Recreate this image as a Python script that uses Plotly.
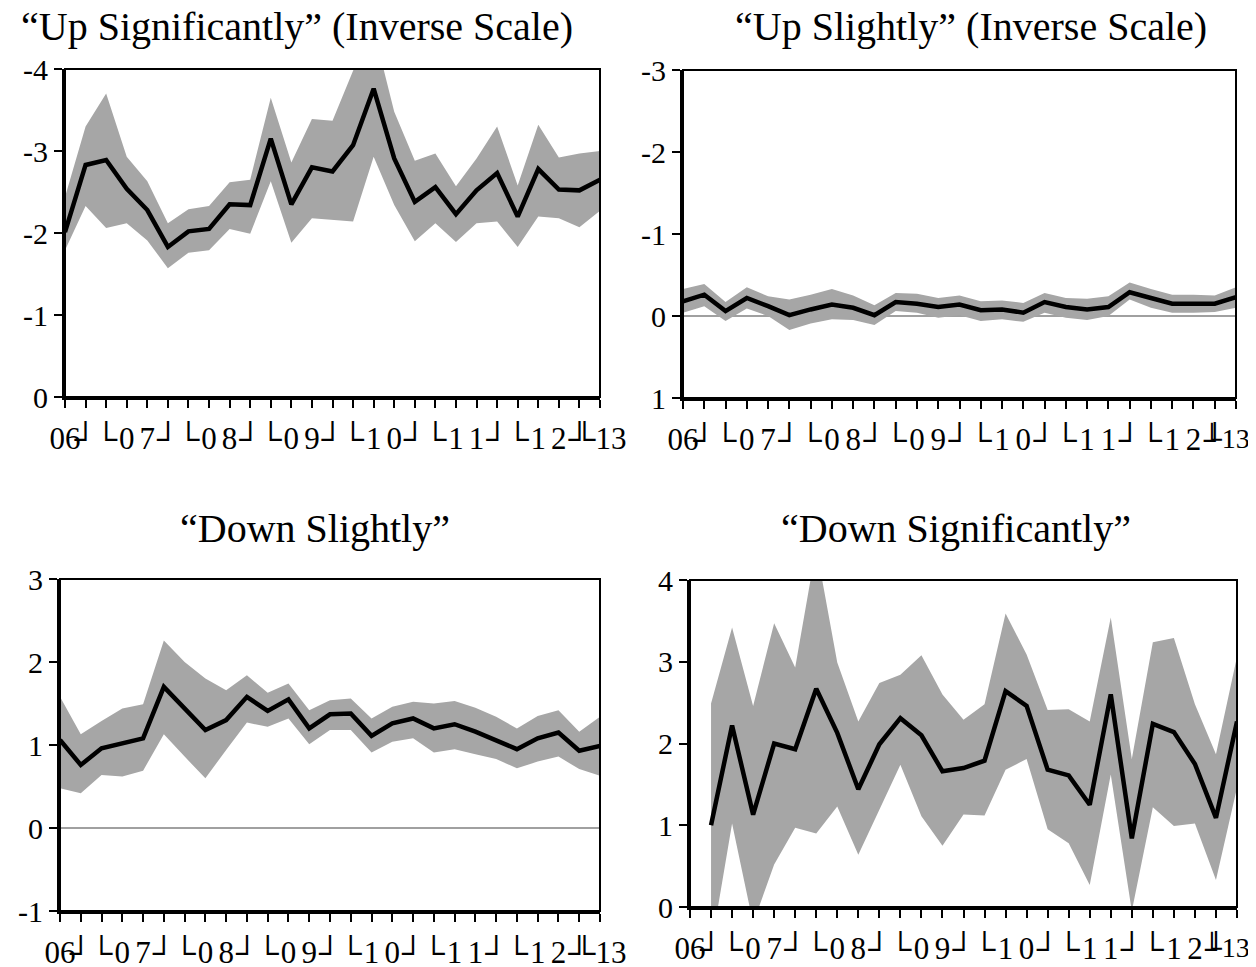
import plotly.graph_objects as go

# ---------------- data ----------------
tick_labels = ["06", "┘", "└", "0", "7", "┘", "└", "0", "8", "┘", "└", "0", "9", "┘",
               "└", "1", "0", "┘", "└", "1", "1", "┘", "└", "1", "2", "┘", "└13"]

titles = ["“Up Significantly” (Inverse Scale)", "“Up Slightly” (Inverse Scale)",
          "“Down Slightly”", "“Down Significantly”"]

# Up Significantly (27 quarters, 2006Q3-2013Q1)
up_sig_mean = [-2.01, -2.83, -2.89, -2.54, -2.28, -1.83, -2.02, -2.05, -2.35, -2.34,
               -3.15, -2.35, -2.80, -2.75, -3.07, -3.76, -2.91, -2.38, -2.56, -2.23,
               -2.52, -2.73, -2.20, -2.78, -2.53, -2.52, -2.65]
up_sig_hi = [-2.44, -3.30, -3.70, -2.93, -2.63, -2.12, -2.29, -2.33, -2.62, -2.65,
             -3.65, -2.86, -3.39, -3.37, -3.98, -4.48, -3.48, -2.88, -2.97, -2.57,
             -2.91, -3.30, -2.58, -3.32, -2.92, -2.97, -3.00]
up_sig_lo = [-1.79, -2.33, -2.06, -2.12, -1.91, -1.57, -1.76, -1.79, -2.05, -1.99,
             -2.63, -1.88, -2.18, -2.16, -2.14, -2.93, -2.34, -1.90, -2.12, -1.89,
             -2.12, -2.14, -1.83, -2.20, -2.18, -2.07, -2.27]

# Up Slightly
up_sl_mean = [-0.18, -0.26, -0.06, -0.22, -0.12, -0.01, -0.08, -0.14, -0.10, -0.01,
              -0.17, -0.15, -0.11, -0.14, -0.07, -0.08, -0.04, -0.17, -0.11, -0.08,
              -0.11, -0.29, -0.22, -0.15, -0.15, -0.15, -0.23]
up_sl_hi = [-0.33, -0.39, -0.17, -0.35, -0.24, -0.20, -0.26, -0.33, -0.25, -0.13,
            -0.28, -0.27, -0.22, -0.25, -0.18, -0.19, -0.16, -0.28, -0.22, -0.21,
            -0.24, -0.41, -0.33, -0.26, -0.26, -0.25, -0.35]
up_sl_lo = [-0.04, -0.12, 0.06, -0.09, 0.00, 0.17, 0.09, 0.04, 0.05, 0.11,
            -0.06, -0.04, 0.02, -0.01, 0.06, 0.04, 0.07, -0.04, 0.02, 0.05,
            0.00, -0.20, -0.10, -0.04, -0.04, -0.05, -0.10]

# Down Slightly
dn_sl_mean = [1.06, 0.76, 0.96, 1.02, 1.08, 1.70, 1.44, 1.18, 1.30, 1.58,
              1.41, 1.55, 1.20, 1.37, 1.38, 1.11, 1.26, 1.32, 1.20, 1.25,
              1.16, 1.06, 0.95, 1.08, 1.15, 0.93, 0.99]
dn_sl_hi = [1.58, 1.13, 1.29, 1.44, 1.49, 2.26, 2.00, 1.80, 1.66, 1.84,
            1.63, 1.74, 1.42, 1.54, 1.56, 1.32, 1.46, 1.52, 1.50, 1.53,
            1.45, 1.34, 1.20, 1.35, 1.42, 1.16, 1.34]
dn_sl_lo = [0.48, 0.42, 0.64, 0.62, 0.69, 1.13, 0.86, 0.60, 0.94, 1.27,
            1.22, 1.32, 1.01, 1.18, 1.18, 0.91, 1.04, 1.08, 0.91, 0.95,
            0.89, 0.83, 0.72, 0.80, 0.86, 0.71, 0.63]

# Down Significantly (26 quarters, 2006Q4-2013Q1)
dn_sig_mean = [1.00, 2.22, 1.13, 2.00, 1.93, 2.67, 2.13, 1.44, 1.99, 2.31,
               2.10, 1.66, 1.70, 1.79, 2.64, 2.46, 1.68, 1.61, 1.25, 2.60,
               0.84, 2.24, 2.14, 1.75, 1.09, 2.27]
dn_sig_hi = [2.49, 3.42, 2.46, 3.47, 2.93, 4.40, 2.99, 2.27, 2.74, 2.84,
             3.08, 2.60, 2.29, 2.48, 3.59, 3.09, 2.41, 2.42, 2.27, 3.54,
             1.81, 3.24, 3.29, 2.48, 1.87, 3.06]
dn_sig_lo = [-0.50, 1.02, -0.20, 0.52, 0.97, 0.90, 1.23, 0.64, 1.19, 1.74,
             1.11, 0.75, 1.13, 1.12, 1.68, 1.81, 0.95, 0.78, 0.27, 1.62,
             -0.05, 1.22, 0.99, 1.02, 0.33, 1.46]

# ---------------- figure ----------------
OFF = 8                      # page body margin in the browser
W, H = 1256 - OFF, 967 - OFF
FONT = "Liberation Serif, Times New Roman, serif"
BAND = "#a6a6a6"

panels = [
    dict(mean=up_sig_mean, hi=up_sig_hi, lo=up_sig_lo, start=0, right=False,
         xpx=(65, 600), ypx=(69, 397), yrange=[0, -4], ticks=[0, -1, -2, -3, -4],
         title=titles[0], tx=297, ty=27),
    dict(mean=up_sl_mean, hi=up_sl_hi, lo=up_sl_lo, start=0, right=True,
         xpx=(683, 1236), ypx=(70, 398), yrange=[1, -3], ticks=[1, 0, -1, -2, -3],
         title=titles[1], tx=971, ty=27),
    dict(mean=dn_sl_mean, hi=dn_sl_hi, lo=dn_sl_lo, start=0, right=False,
         xpx=(60, 600), ypx=(579, 911), yrange=[-1, 3], ticks=[-1, 0, 1, 2, 3],
         title=titles[2], tx=315, ty=528),
    dict(mean=dn_sig_mean, hi=dn_sig_hi, lo=dn_sig_lo, start=1, right=True,
         xpx=(690, 1237), ypx=(580, 907), yrange=[0, 4], ticks=[0, 1, 2, 3, 4],
         title=titles[3], tx=956, ty=528),
]

fig = go.Figure()
layout = dict(width=W, height=H, margin=dict(l=0, r=0, t=0, b=0, autoexpand=False),
              paper_bgcolor="white", plot_bgcolor="white", showlegend=False,
              font=dict(family=FONT, color="black"))
shapes = []
annotations = []
n_ticks = len(tick_labels)
XT_SIZE = 31

for i, p in enumerate(panels):
    k = "" if i == 0 else str(i + 1)
    xs = list(range(p["start"], p["start"] + len(p["mean"])))
    fig.add_trace(go.Scatter(x=xs, y=p["lo"], mode="lines", line=dict(width=0, color=BAND),
                             xaxis="x" + k, yaxis="y" + k, hoverinfo="skip"))
    fig.add_trace(go.Scatter(x=xs, y=p["hi"], mode="lines", line=dict(width=0, color=BAND),
                             fill="tonexty", fillcolor=BAND,
                             xaxis="x" + k, yaxis="y" + k, hoverinfo="skip"))
    fig.add_trace(go.Scatter(x=xs, y=p["mean"], mode="lines",
                             line=dict(width=4.5, color="black"),
                             xaxis="x" + k, yaxis="y" + k))
    x0, x1 = p["xpx"][0] - OFF, p["xpx"][1] - OFF
    y0, y1 = p["ypx"][0] - OFF, p["ypx"][1] - OFF
    ttext = list(tick_labels)
    if p["right"]:
        # last label runs past the page edge; drawn as an annotation instead
        ttext[-1] = ""
        annotations.append(dict(text=tick_labels[-1], x=(W - 5) / W, y=1 - (y1 + 40) / H,
                                xref="paper", yref="paper", showarrow=False,
                                xanchor="right", yanchor="middle", borderpad=0,
                                font=dict(family=FONT, size=28, color="black")))
    layout["xaxis" + k] = dict(
        domain=[x0 / W, x1 / W], anchor="y" + k, range=[0, n_ticks - 1],
        tickmode="array", tickvals=list(range(n_ticks)), ticktext=ttext,
        tickangle=0, automargin=False, ticklabelstandoff=4,
        ticks="outside", ticklen=8, tickwidth=2, tickcolor="black",
        showline=True, linewidth=3, linecolor="black", showgrid=False, zeroline=False,
        tickfont=dict(family=FONT, size=XT_SIZE, color="black"), fixedrange=True)
    layout["yaxis" + k] = dict(
        domain=[1 - y1 / H, 1 - y0 / H], anchor="x" + k, range=p["yrange"],
        tickmode="array", tickvals=p["ticks"], ticktext=[str(t) for t in p["ticks"]],
        automargin=False,
        ticks="outside", ticklen=8, tickwidth=2, tickcolor="black",
        showline=True, linewidth=3, linecolor="black", showgrid=False,
        zeroline=True, zerolinecolor="#a0a0a0", zerolinewidth=1.5,
        tickfont=dict(family=FONT, size=30, color="black"), fixedrange=True)
    shapes.append(dict(type="rect", xref="x" + k + " domain", yref="y" + k + " domain",
                       x0=0, x1=1, y0=0, y1=1, line=dict(color="black", width=2),
                       layer="above"))
    annotations.append(dict(text=p["title"], x=(p["tx"] - OFF) / W,
                            y=1 - (p["ty"] - OFF) / H,
                            xref="paper", yref="paper", showarrow=False,
                            xanchor="center", yanchor="middle", borderpad=0,
                            font=dict(family=FONT, size=40, color="black")))

layout["shapes"] = shapes
layout["annotations"] = annotations
fig.update_layout(**layout)
fig.write_html("out.html")
